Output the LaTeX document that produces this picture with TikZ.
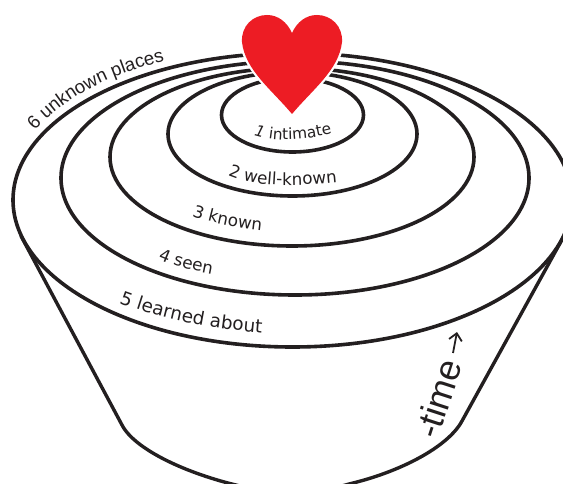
\documentclass[tikz,border=0pt]{standalone}
\usepackage{fontspec}
\setmainfont{DejaVu Sans}
\newfontfamily\lib{Liberation Sans}
\usetikzlibrary{decorations.text,arrows.meta}
\definecolor{ink}{HTML}{231F20}
\definecolor{heartred}{HTML}{ED1C24}
\newcommand{\labA}{\fontsize{15.4}{17}\selectfont\color{ink}}
\newcommand{\labB}{\fontsize{16.8}{18}\selectfont\color{ink}}
\newcommand{\labC}{\fontsize{18.4}{20}\selectfont\color{ink}}
\newcommand{\labtop}{\lib\fontsize{18.7}{21}\selectfont\color{ink}}
\tikzset{
  ring/.style={draw=ink,line width=3.6pt},
  cup/.style={draw=ink,line width=3.4pt,line cap=round},
  labelpath/.style={decorate,decoration={text along path,text={#1}}}
}
\begin{document}
\begin{tikzpicture}[x=1pt,y=-1pt]
\useasboundingbox (0,0) rectangle (563,484);
\clip (0,0) rectangle (563,484);
% cup sides
\draw[cup] (21,236) -- (122,425) .. controls (135,450) and (188,474) .. (240,486) .. controls (270,493) and (320,493) .. (349,484) .. controls (400,472) and (448,447) .. (462,421) -- (564,236);
% rings
\draw[ring] (292.5,200) ellipse [x radius=279.5,y radius=147];
\draw[ring] (295,178) ellipse [x radius=234,y radius=117];
\draw[ring] (292,157) ellipse [x radius=182,y radius=89];
\draw[ring] (292.5,134) ellipse [x radius=124.5,y radius=62];
\draw[ring] (292.5,115) ellipse [x radius=71,y radius=37];
% heart
\def\heartpath{(292,114) .. controls (272,90) and (245,70) .. (242,42)
  .. controls (241,26) and (253,15) .. (267,15)
  .. controls (278,15) and (287,22) .. (292,33)
  .. controls (297,22) and (306,15) .. (317,15)
  .. controls (331,15) and (343,26) .. (342,42)
  .. controls (339,70) and (312,90) .. (292,114) -- cycle}
\draw[draw=white,line width=4.4pt,line join=round] \heartpath;
\fill[heartred] \heartpath;
% labels
\path[labelpath={|\labtop|6 unknown places}] (35,131) .. controls (68,95) and (112,72) .. (185,56);
\path[labelpath={|\labA\itshape|1|\labA| intimate}] (254,135) .. controls (275,142) and (305,142) .. (345,130);
\path[labelpath={|\labB|2 well-known}] (228,175) .. controls (255,187) and (295,188) .. (360,180);
\path[labelpath={|\labB|3 known}] (192,216) .. controls (215,224) and (240,229) .. (290,233);
\path[labelpath={|\labB|4 seen}] (158,259) .. controls (178,268) and (198,272) .. (240,279);
\path[labelpath={|\labC|5 learned about}] (119,303) .. controls (165,320) and (215,331) .. (295,335);
% time
\node[rotate=72,anchor=base west,inner sep=0pt,text=ink,font=\lib\fontsize{36}{38}\selectfont] (time) at (438,441) {-time};
\coordinate (arrowstart) at (453,353);
\coordinate (arrowend) at (457,332);
\draw[draw=ink,line width=1.8pt,-{Straight Barb[length=7pt,width=13pt]}] (arrowstart) -- (arrowend);
\end{tikzpicture}
\end{document}
